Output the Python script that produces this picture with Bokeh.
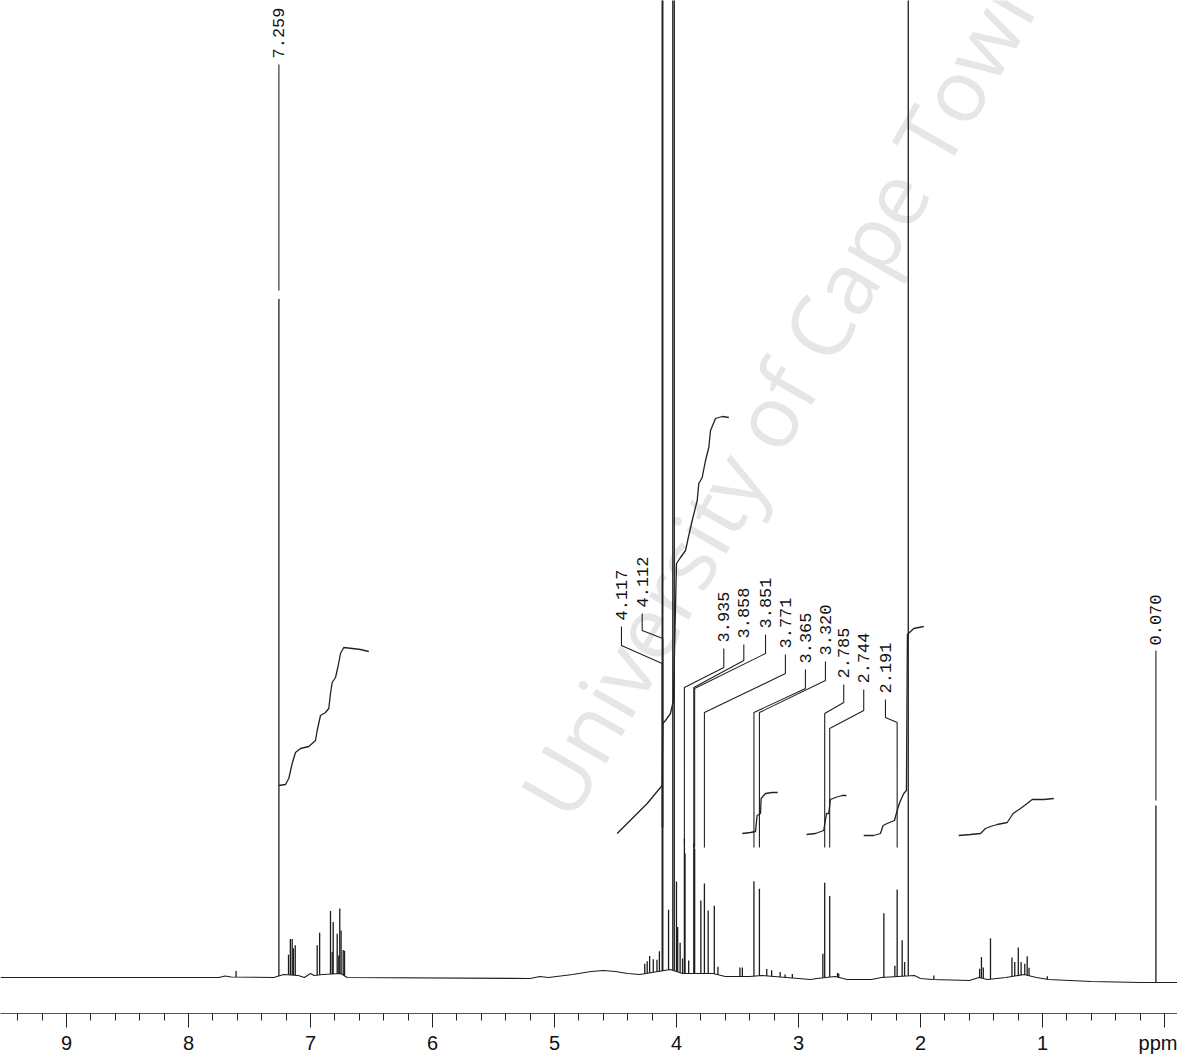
import numpy as np
from bokeh.plotting import figure
from bokeh.models import Range1d, FixedTicker
from bokeh.embed import file_html
from bokeh.resources import INLINE
from bokeh.core.properties import value

# ---------------- data ----------------
# baseline of the spectrum (ppm, intensity)
baseline_ppm = [9.541, 7.75, 7.70, 7.65, 7.30, 7.22, 7.10, 7.05, 7.00, 6.97, 6.90, 6.75, 6.70,
                5.20, 5.12, 5.05, 4.85, 4.70, 4.60, 4.50, 4.40, 4.30, 4.15, 4.05, 3.95, 3.70,
                3.60, 3.40, 3.30, 3.10, 3.00, 2.90, 2.85, 2.70, 2.60, 2.40, 2.32, 2.05, 2.00,
                1.90, 1.60, 1.52, 1.45, 1.30, 1.15, 1.05, 0.95, 0.60, 0.20, 0.00, -0.107]
baseline_int = [0, 0, 1.5, 0.5, 0, 3, 2, 0, 4, 2, 3, 4, 0,
                -1, 1, 0, 3, 6, 7, 6, 4, 3, 6, 8, 4, 4,
                1, 1, 2, 0, -1, -2, -1, 1, -2, -2, 0, 2, -1,
                -2, -3, 0, -2, 0, 3, 0, -2, -4, -5, -5, -5]

# peaks (ppm, height above baseline); 1100 = off scale
peak_ppm = [7.61, 7.259, 7.18, 7.165, 7.15, 7.14, 7.125, 6.945, 6.925, 6.836, 6.822, 6.814,
            6.781, 6.768, 6.760, 6.749, 6.732, 6.721,
            4.26, 4.24, 4.22, 4.19, 4.16, 4.14, 4.117, 4.112, 4.065, 4.03, 4.018, 4.00, 3.99,
            3.97, 3.95, 3.935, 3.93, 3.90, 3.858, 3.851, 3.80, 3.771, 3.74, 3.69, 3.66,
            3.48, 3.46, 3.365, 3.320, 3.26, 3.22, 3.15, 3.11, 3.05,
            2.80, 2.785, 2.744, 2.68, 2.67,
            2.30, 2.21, 2.191, 2.15, 2.13, 2.10, 1.89,
            1.515, 1.500, 1.485, 1.426, 1.250, 1.227, 1.198, 1.175, 1.145, 1.125, 1.110,
            0.96, 0.070]
peak_int = [6, 677, 20, 36, 36, 27, 30, 30, 42, 63, 22, 52,
            40, 18, 65, 43, 25, 25,
            10, 12, 17, 13, 12, 20, 1100, 1100, 60, 1100, 1100, 90, 45,
            30, 15, 135, 120, 13, 130, 125, 73, 90, 63, 68, 8,
            9, 9, 95, 87, 7, 6, 5, 3, 4,
            24, 95, 81, 4, 4,
            64, 11, 87, 36, 14, 1100, 4,
            9, 21, 11, 41, 19, 14, 28, 13, 11, 19, 8,
            3, 177]

# integral traces (ppm, integral level)
intA_ppm = [7.260, 7.205, 7.178, 7.150, 7.123, 7.082, 7.014, 6.959, 6.945, 6.918, 6.877, 6.850,
            6.836, 6.822, 6.795, 6.776, 6.754, 6.727, 6.658, 6.590, 6.522]
intA_val = [192, 193, 199, 214, 225, 229, 231, 237, 247, 262, 265, 269,
            284, 295, 300, 310, 324, 330, 329, 328, 326]
intB_ppm = [4.486, 4.404, 4.322, 4.240, 4.172, 4.117, 4.112, 4.090, 4.049, 4.025, 4.000, 3.967,
            3.926, 3.899, 3.871, 3.830, 3.817, 3.789, 3.762, 3.735, 3.721, 3.680, 3.625, 3.571]
intB_val = [144, 154, 164, 174, 184, 192, 254, 257, 264, 277, 414, 420,
            427, 442, 457, 477, 494, 500, 517, 530, 547, 559, 561, 560]
intC_ppm = [3.461, 3.393, 3.352, 3.339, 3.311, 3.306, 3.270, 3.216, 3.170]
intC_val = [144, 145, 146, 162, 164, 179, 184, 185, 185]
intD_ppm = [2.934, 2.861, 2.793, 2.770, 2.752, 2.738, 2.697, 2.642, 2.607]
intD_val = [143, 144, 147, 164, 164, 178, 180, 182, 182]
intE_ppm = [2.465, 2.383, 2.328, 2.306, 2.273, 2.213, 2.191, 2.170, 2.137, 2.115, 2.107, 2.055, 1.973]
intE_val = [142, 142, 144, 152, 154, 157, 167, 175, 184, 187, 343, 349, 351]
intF_ppm = [1.686, 1.590, 1.508, 1.467, 1.426, 1.371, 1.289, 1.240, 1.180, 1.125, 1.084, 0.989, 0.907]
intF_val = [142, 143, 144, 149, 151, 153, 155, 164, 169, 174, 178, 178, 179]

# peak labels
label_text = ["7.259", "4.117", "4.112", "3.935", "3.858", "3.851", "3.771",
              "3.365", "3.320", "2.785", "2.744", "2.191", "0.070"]
label_ppm = [7.259, 4.117, 4.112, 3.935, 3.858, 3.851, 3.771,
             3.365, 3.320, 2.785, 2.744, 2.191, 0.070]

# axis ticks
tick_values = [0, 1, 2, 3, 4, 5, 6, 7, 8, 9]
tick_labels = ["ppm", "1", "2", "3", "4", "5", "6", "7", "8", "9"]

# ---------------- layout of label connectors (positions, not data) ----------------
# text x (ppm), text bottom, knee top, knee bottom, end level
label_layout = [
    (7.259, 919, 687, 687, 687),
    (4.451, 357, 332, 314, 150),
    (4.281, 370, 347, 339, 150),
    (3.612, 335, 310, 290, 135),
    (3.448, 339, 317, 290, 130),
    (3.270, 349, 324, 289, 130),
    (3.107, 329, 304, 265, 130),
    (2.943, 314, 289, 265, 130),
    (2.779, 322, 297, 265, 130),
    (2.629, 299, 275, 264, 130),
    (2.465, 294, 267, 249, 130),
    (2.287, 284, 260, 255, 130),
    (0.070, 332, 327, 327, 177),
]

W, H = 1177, 1056
p = figure(width=W, height=H, output_backend="svg", toolbar_location=None,
           x_range=Range1d(9.541, -0.107), y_range=Range1d(-36, 977),
           y_axis_location=None, min_border_left=0, min_border_right=0,
           min_border_top=0, min_border_bottom=43)
p.outline_line_color = None
p.grid.visible = False
p.background_fill_color = "white"
p.border_fill_color = "white"

# watermark
p.text(x=[5.10], y=[170], text=["University of Cape Town"], angle=1.05,
       text_font=value("Open Sans"), text_font_size="86px",
       text_color="#e6e6e6", text_align="left", text_baseline="alphabetic")

# spectrum
bppm = np.array(baseline_ppm)
bint = np.array(baseline_int, dtype=float)
order = np.argsort(bppm)
pk = np.array(peak_ppm)
base_at_peak = np.interp(pk, bppm[order], bint[order])
p.line(baseline_ppm, baseline_int, line_color="#1c1c1c", line_width=1.1)
p.segment(x0=pk, y0=base_at_peak, x1=pk, y1=base_at_peak + np.array(peak_int),
          line_color="#1c1c1c", line_width=1.3)

# integrals
for xs, ys in [(intA_ppm, intA_val), (intB_ppm, intB_val), (intC_ppm, intC_val),
               (intD_ppm, intD_val), (intE_ppm, intE_val), (intF_ppm, intF_val)]:
    p.line(xs, ys, line_color="#222222", line_width=1.3)

# labels + connectors
cx, cy = [], []
for (tx, tb, k1, k2, end), lp in zip(label_layout, label_ppm):
    cx.append([tx, tx, lp, lp])
    cy.append([tb - 6, k1, k2, end])
p.multi_line(cx, cy, line_color="#222222", line_width=1.1)
p.text(x=[l[0] for l in label_layout], y=[l[1] for l in label_layout], text=label_text,
       angle=np.pi / 2, text_font=value("Liberation Mono"), text_font_size="17px",
       text_color="#111111", text_align="left", text_baseline="middle")

# axis
ax = p.xaxis[0]
ax.ticker = FixedTicker(ticks=tick_values,
                        minor_ticks=[round(v * 0.2, 1) for v in range(0, 48)])
ax.major_label_overrides = {v: t for v, t in zip(tick_values, tick_labels)}
ax.axis_line_color = "#555555"
ax.axis_line_width = 1
ax.major_tick_out = 14
ax.major_tick_in = 0
ax.minor_tick_out = 7
ax.minor_tick_in = 0
ax.major_tick_line_color = "#222222"
ax.minor_tick_line_color = "#222222"
ax.major_label_text_font = "Liberation Sans"
ax.major_label_text_font_size = "20px"
ax.major_label_text_color = "#111111"
ax.major_label_standoff = 4

open("out.html", "w").write(file_html(p, INLINE))
